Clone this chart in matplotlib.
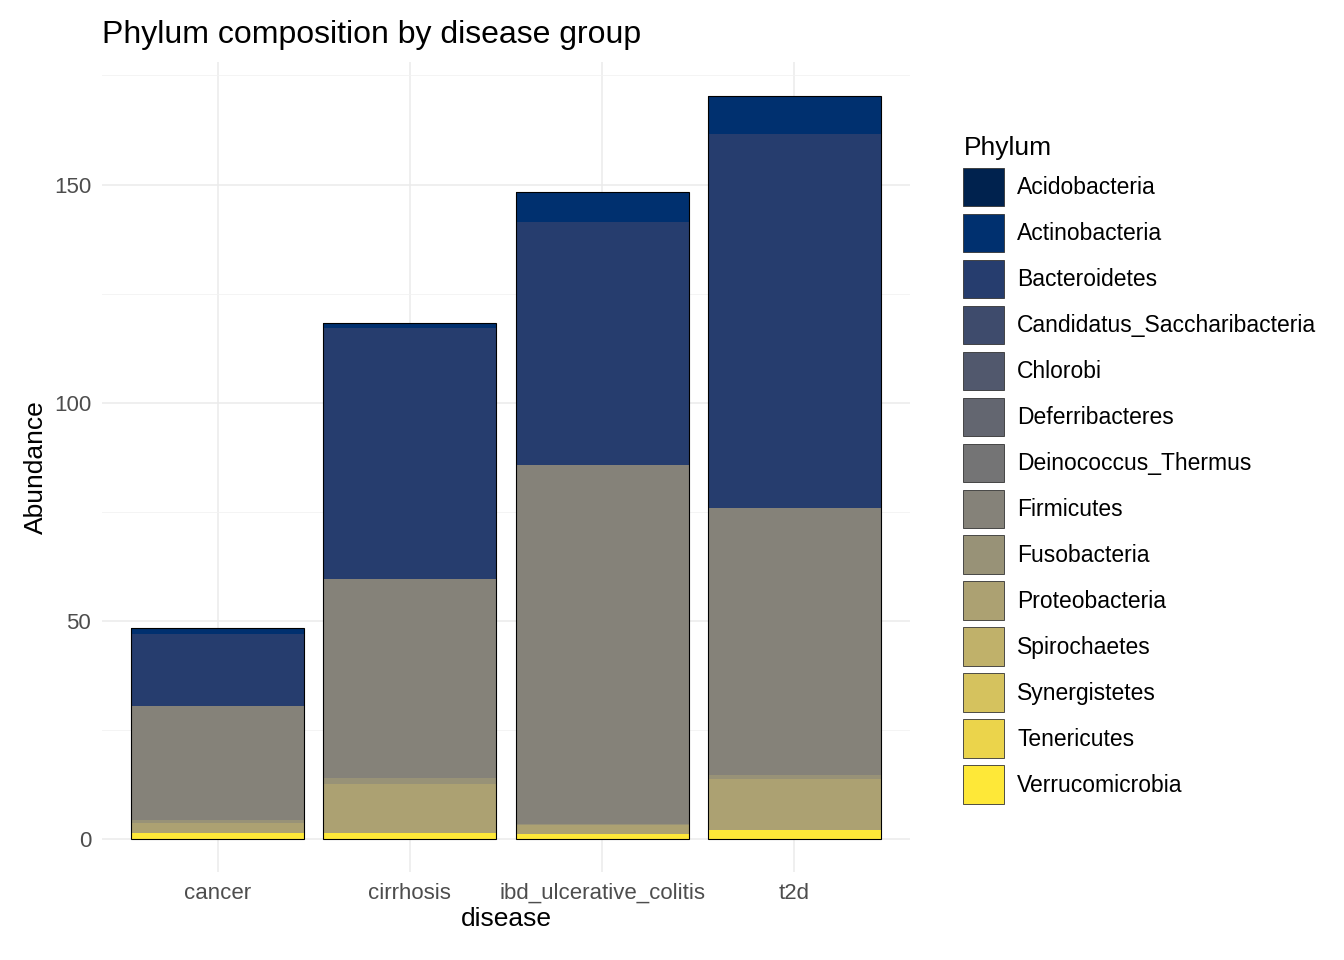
import matplotlib.pyplot as plt
import numpy as np

plt.rcParams['font.family'] = ['Liberation Sans', 'DejaVu Sans']

diseases = ['cancer', 'cirrhosis', 'ibd_ulcerative_colitis', 't2d']
phyla = ['Acidobacteria', 'Actinobacteria', 'Bacteroidetes', 'Candidatus_Saccharibacteria',
         'Chlorobi', 'Deferribacteres', 'Deinococcus_Thermus', 'Firmicutes', 'Fusobacteria',
         'Proteobacteria', 'Spirochaetes', 'Synergistetes', 'Tenericutes', 'Verrucomicrobia']

# abundance per phylum, one value per disease
abund = {
    'Acidobacteria':               [0.0, 0.0, 0.0, 0.0],
    'Actinobacteria':              [1.4, 1.1, 6.9, 8.7],
    'Bacteroidetes':               [16.5, 57.5, 55.7, 85.6],
    'Candidatus_Saccharibacteria': [0.0, 0.0, 0.0, 0.0],
    'Chlorobi':                    [0.0, 0.0, 0.0, 0.0],
    'Deferribacteres':             [0.0, 0.0, 0.0, 0.0],
    'Deinococcus_Thermus':         [0.0, 0.0, 0.0, 0.0],
    'Firmicutes':                  [26.0, 45.6, 82.3, 61.2],
    'Fusobacteria':                [0.7, 1.4, 0.3, 0.9],
    'Proteobacteria':              [2.3, 11.2, 2.0, 11.7],
    'Spirochaetes':                [0.0, 0.0, 0.0, 0.0],
    'Synergistetes':               [0.0, 0.0, 0.0, 0.0],
    'Tenericutes':                 [0.0, 0.0, 0.0, 0.0],
    'Verrucomicrobia':             [1.4, 1.4, 1.2, 2.1],
}

colors = plt.cm.cividis(np.linspace(0, 1, len(phyla)))
x = np.arange(len(diseases))

fig, ax = plt.subplots(figsize=(13.44, 9.6), dpi=100)
fig.subplots_adjust(left=0.076, right=0.677, top=0.935, bottom=0.092)

bottom = np.zeros(len(diseases))
for name, c in reversed(list(zip(phyla, colors))):
    vals = np.array(abund[name])
    ax.bar(x, vals, bottom=bottom, width=0.9, color=c, linewidth=0)
    bottom += vals
ax.bar(x, bottom, width=0.9, fill=False, edgecolor='black', linewidth=0.8)

ax.set_xlim(-0.6, 3.6)
ax.set_ylim(-7.5, 178)
ax.set_xticks(x, diseases)
ax.set_yticks([0, 50, 100, 150])
ax.set_yticks([25, 75, 125, 175], minor=True)
ax.grid(True, which='major', color='#ebebeb', linewidth=1.1)
ax.grid(True, which='minor', axis='y', color='#f2f2f2', linewidth=0.6)
ax.set_axisbelow(True)
for s in ax.spines.values():
    s.set_visible(False)
ax.tick_params(which='both', length=0, labelsize=16, colors='#4d4d4d', pad=8)
ax.set_xlabel('disease', fontsize=19, labelpad=2)
ax.set_ylabel('Abundance', fontsize=19)
ax.set_title('Phylum composition by disease group', fontsize=23, loc='left', pad=14)

leg = ax.legend([plt.Rectangle((0, 0), 1, 1, fc=c, ec='#333333', lw=0.6) for c in colors], phyla,
                title='Phylum', loc='upper left', bbox_to_anchor=(1.055, 0.92), frameon=False,
                fontsize=16.5, title_fontsize=19, handlelength=1.75, handleheight=2.2,
                labelspacing=0.33, handletextpad=0.6, borderaxespad=0)
leg._legend_box.align = 'left'

fig.savefig('out.png')
